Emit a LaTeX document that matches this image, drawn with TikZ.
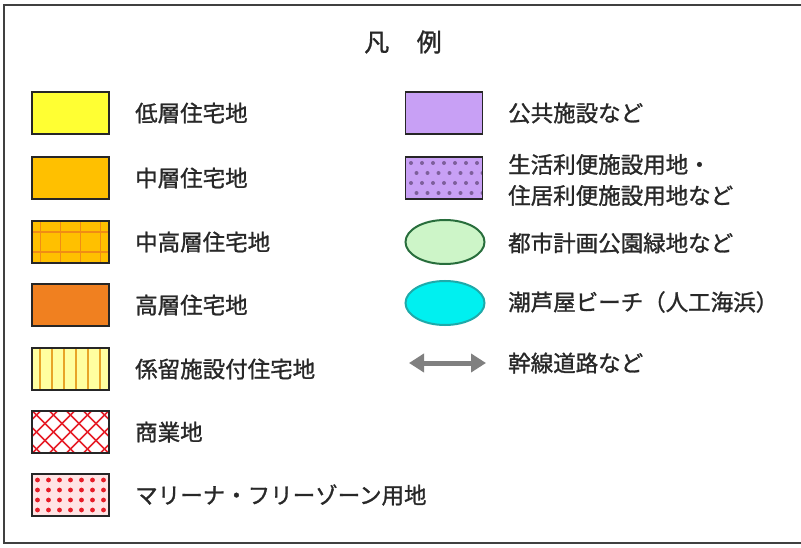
\documentclass[tikz,border=0pt]{standalone}
\usepackage{fontspec}
\setmainfont{Noto Sans CJK JP}[FakeBold=1.2]
\usetikzlibrary{arrows.meta,shapes.geometric}

\definecolor{lowres}{RGB}{255,255,51}
\definecolor{midres}{RGB}{255,192,0}
\definecolor{gridline}{RGB}{240,140,20}
\definecolor{highres}{RGB}{240,128,32}
\definecolor{mooryel}{RGB}{255,255,160}
\definecolor{moorline}{RGB}{232,165,40}
\definecolor{shopred}{RGB}{230,30,40}
\definecolor{marinapink}{RGB}{255,228,228}
\definecolor{publicpurple}{RGB}{200,160,245}
\definecolor{purpledot}{RGB}{125,95,155}
\definecolor{parkgreen}{RGB}{205,245,200}
\definecolor{parkedge}{RGB}{40,110,60}
\definecolor{beachcyan}{RGB}{0,240,240}
\definecolor{beachedge}{RGB}{30,170,170}
\definecolor{roadgray}{RGB}{128,128,128}
\definecolor{textgray}{RGB}{40,40,40}

\tikzset{
  swatch/.style={draw=black!85, line width=1.5pt, minimum width=77pt, minimum height=42pt, inner sep=0pt},
  oval/.style={ellipse, line width=2pt, minimum width=79pt, minimum height=44pt, inner sep=0pt},
  legtext/.style={anchor=west, text=textgray, font=\fontsize{22.5}{31}\selectfont, inner sep=0pt},
  midgrid/.style={swatch, fill=midres, path picture={
    \foreach \gx in {-30,-10,10,30}
      \draw[gridline, line width=1.4pt] ([shift={(\gx,-25)}]path picture bounding box.center) -- ++(0,50);
    \foreach \gy in {-10,10}
      \draw[gridline, line width=1.4pt] ([shift={(-45,\gy)}]path picture bounding box.center) -- ++(90,0);
  }},
  moorstripe/.style={swatch, fill=mooryel, path picture={
    \foreach \gx in {-30.5,-18.5,-6.5,5.5,17.5,29.5}
      \draw[moorline, line width=1.8pt] ([shift={(\gx,-25)}]path picture bounding box.center) -- ++(0,50);
  }},
  shophatch/.style={swatch, fill=white, path picture={
    \foreach \k in {-5,...,5} {
      \draw[shopred, line width=1.5pt] ([shift={(\k*17-25,-25)}]path picture bounding box.center) -- ++(50,50);
      \draw[shopred, line width=1.5pt] ([shift={(\k*17+25,-25)}]path picture bounding box.center) -- ++(-50,50);
    }
  }},
  marinadots/.style={swatch, fill=marinapink, path picture={
    \foreach \r in {-15,-5,5,15}
      \foreach \c in {-33,-22,...,33}
        \fill[shopred] ([shift={(\c,\r)}]path picture bounding box.center) circle (2.4pt);
  }},
  purpledots/.style={swatch, fill=publicpurple, path picture={
    \foreach \r/\o in {-15/0,-5/5.5,5/0,15/5.5}
      \foreach \c in {-33,-22,...,33}
        \fill[purpledot] ([shift={(\c+\o,\r)}]path picture bounding box.center) circle (2pt);
  }},
  roadarrow/.style={draw=roadgray, line width=5pt,
    arrows={Triangle[length=15pt,width=18pt]-Triangle[length=15pt,width=18pt]}}
}

\begin{document}
\begin{tikzpicture}[x=1pt, y=-1pt]
	\useasboundingbox (0,0) rectangle (801,548);
	\clip (0,0) rectangle (801,548);
	\fill[white] (0,0) rectangle (801,548);
	\draw[black!75, line width=2pt] (4,5) rectangle (815,543);

	\node[text=textgray, font=\fontsize{25}{30}\selectfont, inner sep=0pt] (title) at (403,42) {凡\hspace{1.1em}例};

	% left column
	\node[swatch, fill=lowres] (lowrise) at (70.5,113) {};
	\node[legtext] (lowriseL) at (135,113) {低層住宅地};
	\node[swatch, fill=midres] (midrise) at (70.5,178) {};
	\node[legtext] (midriseL) at (135,178) {中層住宅地};
	\node[midgrid] (midhigh) at (70.5,242) {};
	\node[legtext] (midhighL) at (135,242) {中高層住宅地};
	\node[swatch, fill=highres] (highrise) at (70.5,305) {};
	\node[legtext] (highriseL) at (135,305) {高層住宅地};
	\node[moorstripe] (mooring) at (70.5,369) {};
	\node[legtext] (mooringL) at (135,369) {係留施設付住宅地};
	\node[shophatch] (shops) at (70.5,432) {};
	\node[legtext] (shopsL) at (135,432) {商業地};
	\node[marinadots] (marina) at (70.5,495) {};
	\node[legtext] (marinaL) at (135,495) {マリーナ・フリーゾーン用地};

	% right column
	\node[swatch, fill=publicpurple] (public) at (444,113) {};
	\node[legtext] (publicL) at (508,113) {公共施設など};
	\node[purpledots] (service) at (444,178) {};
	\node[legtext, align=left] (serviceL) at (508,180) {生活利便施設用地・\\住居利便施設用地など};
	\node[oval, draw=parkedge, fill=parkgreen] (park) at (445,242) {};
	\node[legtext] (parkL) at (508,243) {都市計画公園緑地など};
	\node[oval, draw=beachedge, fill=beachcyan] (beach) at (445,303) {};
	\node[legtext] (beachL) at (508,302) {潮芦屋ビーチ（人工海浜）};
	\coordinate (roadW) at (409,363);
	\coordinate (roadE) at (486,363);
	\draw[roadarrow] (roadW) -- (roadE);
	\node[legtext] (roadL) at (508,363) {幹線道路など};
\end{tikzpicture}
\end{document}
